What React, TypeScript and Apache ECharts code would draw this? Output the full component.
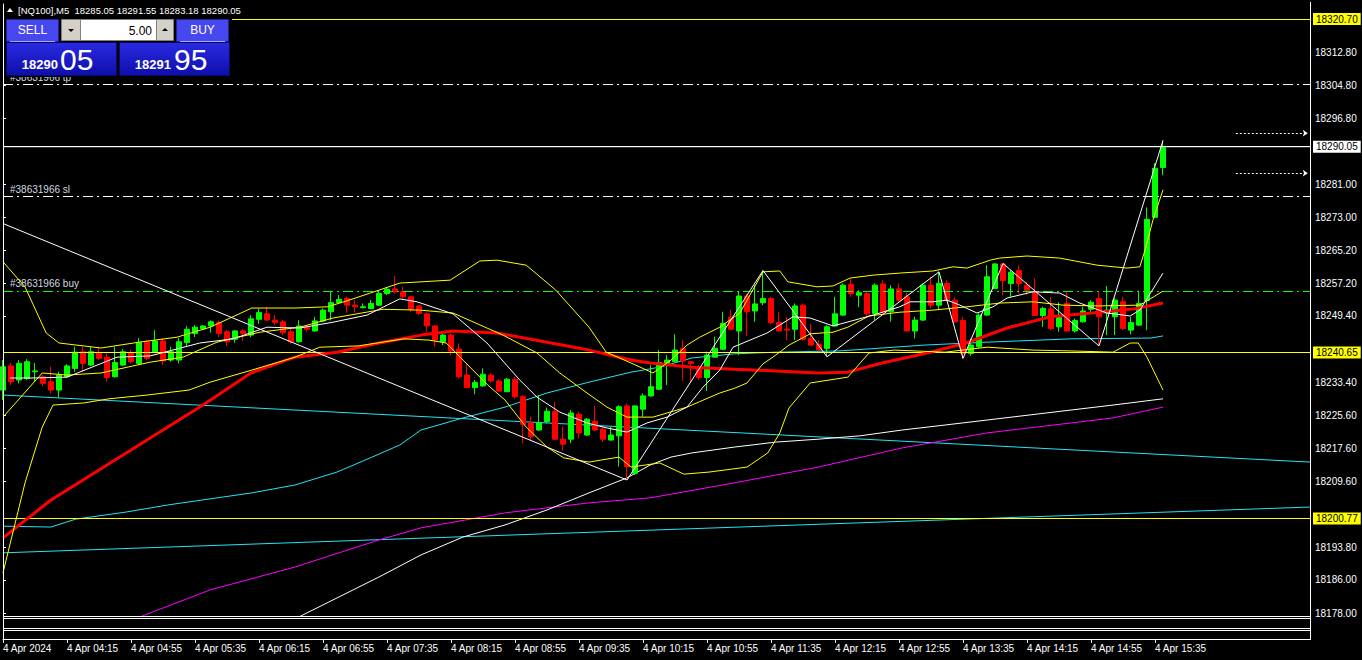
import React, { useEffect, useRef } from "react";
import * as echarts from "echarts";

// ---------------- data ----------------
const symbol = "[NQ100],M5";
const lotSize = 5.0;
const bidPrice = 18290.05;
const askPrice = 18291.95;

// [open, high, low, close] per 5-minute bar, first bar 4 Apr 2024 03:35
const candles: [number, number, number, number][] = [
  [18231.6, 18238.8, 18229.2, 18237.2], [18237.4, 18238.1, 18232.8, 18233.6], [18234.0, 18238.8, 18233.2, 18238.0],
  [18234.4, 18239.0, 18234.0, 18238.4], [18236.0, 18238.1, 18233.6, 18236.2], [18234.8, 18235.2, 18232.5, 18233.2],
  [18233.6, 18237.2, 18230.8, 18231.6], [18231.6, 18236.0, 18229.7, 18235.2], [18234.8, 18237.8, 18234.5, 18237.4],
  [18236.8, 18242.0, 18236.0, 18240.7], [18240.8, 18242.0, 18236.0, 18238.0], [18237.6, 18242.0, 18237.4, 18240.8],
  [18240.4, 18242.0, 18238.8, 18239.2], [18239.5, 18240.4, 18233.6, 18234.6], [18234.8, 18242.0, 18234.6, 18238.2],
  [18237.6, 18241.4, 18237.4, 18240.8], [18240.6, 18241.2, 18238.0, 18238.4], [18238.0, 18244.1, 18237.6, 18243.0],
  [18243.2, 18243.6, 18238.8, 18239.2], [18240.8, 18246.0, 18240.6, 18243.4], [18243.4, 18244.1, 18237.6, 18238.6],
  [18238.8, 18242.0, 18238.4, 18240.8], [18238.8, 18244.1, 18238.0, 18243.2], [18243.0, 18247.0, 18242.0, 18246.2],
  [18245.2, 18247.2, 18244.3, 18246.7], [18246.3, 18247.2, 18246.0, 18247.0], [18247.0, 18248.3, 18245.4, 18248.0],
  [18247.8, 18248.3, 18244.3, 18245.2], [18245.6, 18246.0, 18242.2, 18243.2], [18243.8, 18246.0, 18243.0, 18245.8],
  [18245.8, 18246.2, 18243.4, 18245.2], [18244.8, 18249.6, 18244.3, 18248.7], [18248.6, 18251.2, 18247.5, 18250.2],
  [18249.9, 18251.6, 18248.3, 18248.4], [18248.4, 18249.6, 18247.2, 18247.8], [18248.0, 18248.4, 18244.8, 18245.4],
  [18245.6, 18246.4, 18242.8, 18243.2], [18243.2, 18248.4, 18243.0, 18247.0], [18246.7, 18247.2, 18245.6, 18246.2],
  [18245.8, 18249.2, 18245.6, 18248.2], [18248.2, 18251.2, 18248.0, 18250.8], [18250.4, 18255.2, 18248.3, 18252.6],
  [18252.6, 18254.4, 18252.3, 18253.4], [18253.6, 18254.0, 18250.2, 18252.0], [18252.0, 18253.2, 18250.2, 18251.6],
  [18251.4, 18252.4, 18251.2, 18251.6], [18251.2, 18253.2, 18251.0, 18252.4], [18252.0, 18255.2, 18251.8, 18254.8],
  [18254.8, 18256.3, 18254.4, 18255.8], [18255.9, 18259.0, 18254.8, 18255.2], [18255.2, 18256.4, 18253.6, 18254.0],
  [18254.0, 18254.1, 18250.4, 18251.0], [18251.8, 18252.0, 18249.6, 18250.0], [18249.9, 18250.2, 18245.6, 18247.0],
  [18247.0, 18247.2, 18242.0, 18243.6], [18243.2, 18245.2, 18242.4, 18244.8], [18244.8, 18245.2, 18240.0, 18241.0],
  [18241.4, 18242.8, 18234.4, 18234.8], [18235.2, 18238.0, 18232.0, 18232.2], [18232.2, 18234.0, 18230.6, 18233.4],
  [18232.6, 18236.8, 18232.4, 18235.4], [18235.2, 18235.6, 18233.4, 18233.8], [18233.8, 18234.2, 18231.1, 18231.4],
  [18231.2, 18234.5, 18231.1, 18234.2], [18234.2, 18234.8, 18229.6, 18230.0], [18230.0, 18230.4, 18218.8, 18223.4],
  [18223.7, 18225.2, 18219.6, 18220.4], [18222.0, 18230.4, 18221.8, 18223.7], [18224.0, 18227.4, 18223.6, 18226.5],
  [18226.4, 18228.8, 18219.6, 18219.8], [18219.8, 18222.8, 18217.0, 18218.6], [18219.8, 18226.8, 18218.8, 18226.1],
  [18225.8, 18226.4, 18220.0, 18221.3], [18220.8, 18224.9, 18220.6, 18224.6], [18224.1, 18227.8, 18221.7, 18222.0],
  [18222.2, 18222.8, 18219.2, 18219.8], [18219.6, 18222.8, 18219.4, 18220.8], [18220.6, 18228.0, 18213.2, 18227.6],
  [18227.8, 18228.4, 18210.0, 18213.2], [18211.6, 18227.9, 18211.2, 18227.8], [18227.0, 18230.8, 18225.2, 18230.2],
  [18230.2, 18237.6, 18230.0, 18232.4], [18231.8, 18241.2, 18231.6, 18238.2], [18238.0, 18240.0, 18232.8, 18238.8],
  [18238.4, 18245.0, 18238.3, 18241.2], [18241.6, 18243.6, 18233.8, 18238.6], [18238.4, 18238.6, 18233.3, 18238.0],
  [18237.1, 18237.6, 18234.0, 18234.6], [18234.6, 18240.8, 18231.4, 18240.0], [18239.5, 18244.4, 18239.4, 18241.6],
  [18241.4, 18250.4, 18241.2, 18247.6], [18249.1, 18250.8, 18246.0, 18246.2], [18245.8, 18255.2, 18240.0, 18254.2],
  [18254.2, 18254.8, 18244.6, 18250.4], [18250.6, 18256.8, 18248.0, 18252.3], [18252.6, 18260.3, 18252.0, 18253.6],
  [18253.6, 18254.0, 18247.5, 18247.8], [18247.8, 18250.4, 18245.6, 18245.8], [18246.2, 18249.2, 18243.6, 18246.0],
  [18246.2, 18252.4, 18243.6, 18251.8], [18252.0, 18252.4, 18243.4, 18243.8], [18244.0, 18247.5, 18242.2, 18242.4],
  [18242.6, 18243.6, 18241.0, 18241.2], [18241.6, 18247.2, 18239.6, 18246.8], [18247.0, 18254.0, 18246.8, 18249.9],
  [18249.6, 18257.2, 18249.4, 18256.8], [18257.0, 18258.4, 18254.0, 18254.7], [18254.4, 18255.6, 18251.5, 18255.0],
  [18254.8, 18255.4, 18249.2, 18249.9], [18250.0, 18257.2, 18248.4, 18256.8], [18257.1, 18258.0, 18250.0, 18250.4],
  [18250.4, 18256.8, 18248.0, 18255.9], [18255.9, 18257.2, 18252.8, 18253.2], [18254.0, 18255.0, 18245.6, 18245.8],
  [18245.8, 18249.2, 18244.0, 18248.4], [18248.4, 18257.2, 18248.2, 18256.8], [18256.8, 18258.8, 18251.2, 18252.0],
  [18252.0, 18260.0, 18250.8, 18257.2], [18257.2, 18258.0, 18253.0, 18253.2], [18253.2, 18253.9, 18247.8, 18248.0],
  [18248.3, 18249.2, 18239.2, 18240.4], [18240.4, 18244.0, 18239.8, 18242.4], [18242.0, 18250.0, 18241.8, 18249.6],
  [18249.6, 18261.6, 18249.4, 18258.8], [18256.0, 18262.0, 18255.9, 18261.9], [18261.9, 18262.0, 18254.4, 18257.9],
  [18257.2, 18260.4, 18254.0, 18259.9], [18260.3, 18261.6, 18254.8, 18257.2], [18256.8, 18257.6, 18254.4, 18255.6],
  [18255.2, 18258.4, 18249.4, 18249.5], [18249.5, 18251.6, 18246.8, 18251.2], [18251.1, 18254.0, 18246.0, 18246.4],
  [18246.8, 18252.7, 18245.6, 18249.0], [18252.4, 18255.2, 18245.6, 18245.8], [18245.8, 18248.8, 18245.4, 18248.3],
  [18248.0, 18251.6, 18247.8, 18250.6], [18251.0, 18253.2, 18250.3, 18252.7], [18253.6, 18255.1, 18242.2, 18249.2],
  [18250.1, 18256.6, 18244.8, 18250.8], [18249.2, 18253.6, 18244.8, 18253.2], [18252.8, 18254.0, 18246.0, 18246.4],
  [18246.0, 18249.2, 18245.0, 18247.8], [18247.2, 18255.5, 18247.0, 18252.4], [18253.1, 18275.5, 18246.0, 18272.6],
  [18273.1, 18286.1, 18272.9, 18284.9], [18285.05, 18291.55, 18283.18, 18290.05],
];

const timeLabels = [
  "4 Apr 2024", "4 Apr 04:15", "4 Apr 04:55", "4 Apr 05:35", "4 Apr 06:15", "4 Apr 06:55", "4 Apr 07:35",
  "4 Apr 08:15", "4 Apr 08:55", "4 Apr 09:35", "4 Apr 10:15", "4 Apr 10:55", "4 Apr 11:35", "4 Apr 12:15",
  "4 Apr 12:55", "4 Apr 13:35", "4 Apr 14:15", "4 Apr 14:55", "4 Apr 15:35",
];
const barsPerLabel = 8;

const priceTicks = [
  18312.8, 18304.8, 18296.8, 18281.0, 18273.0, 18265.2, 18257.2, 18249.4,
  18233.4, 18225.6, 18217.6, 18209.6, 18193.8, 18186.0, 18178.0,
];

const yellowLevels = [18320.7, 18240.65, 18200.77];
const orderNames = ["#38631966 tp", "#38631966 sl", "#38631966 buy"];
const orderPrices = [18305.1, 18278.2, 18255.4];
const alertLevels = [18293.3, 18283.7];

// indicator lines: [bar index, price]
const bbUpper: [number, number][] = [
  [0, 18262.4], [2.75, 18256.4], [5.4, 18245.3], [7, 18242.9], [12.25, 18241.7], [17, 18243.1], [21.75, 18244.3],
  [25.9, 18246.7], [31.1, 18251.3], [36.5, 18251.3], [40.6, 18251.6], [43.25, 18253.2], [47, 18255.6], [49.6, 18257.3],
  [55.9, 18258.0], [59.6, 18262.6], [61.75, 18262.8], [65.4, 18261.6], [69.1, 18255.6], [73.25, 18246.7], [75.4, 18240.7],
  [78.5, 18238.1], [81.25, 18235.7], [83.5, 18238.8], [85.5, 18242.4], [87.1, 18244.3], [89.6, 18246.7], [92.1, 18250.1],
  [95, 18260.0], [97.1, 18260.2], [98.1, 18257.6], [101.75, 18256.4], [103.75, 18256.6], [105.9, 18258.5], [108.75, 18259.2],
  [112.1, 18259.7], [116.25, 18260.2], [118.75, 18261.2], [120.5, 18260.9], [123.4, 18262.8], [124.6, 18263.3], [128, 18263.8],
  [132.1, 18263.3], [136.75, 18261.6], [140.5, 18260.9], [142.1, 18261.2], [142.75, 18265.2], [143.75, 18272.5], [145, 18279.7],
];
const bbLower: [number, number][] = [
  [0, 18187.7], [2.75, 18209.3], [4.9, 18222.7], [6.25, 18228.0], [10.1, 18228.5], [13.25, 18229.5], [18, 18230.4],
  [23.25, 18231.6], [25.9, 18233.5], [31.1, 18236.4], [36.5, 18239.5], [39.6, 18241.9], [44.4, 18242.2], [50.1, 18243.9],
  [53.25, 18243.6], [55.4, 18242.9], [57.5, 18238.8], [60.6, 18232.8], [62.75, 18229.2], [65.4, 18222.7], [68, 18217.9],
  [70.1, 18215.3], [73.25, 18214.3], [77, 18215.5], [78.5, 18213.1], [82.1, 18214.1], [85.1, 18211.4], [88.25, 18211.9],
  [93, 18213.1], [95.6, 18216.5], [97.1, 18221.3], [98.25, 18227.3], [100.9, 18233.3], [105.6, 18234.7], [108.25, 18240.5],
  [111.4, 18241.2], [117.75, 18240.7], [123, 18241.9], [128.75, 18241.2], [133.5, 18241.0], [138.75, 18240.7],
  [140.9, 18242.9], [141.9, 18242.9], [143, 18239.5], [145, 18231.6],
];
const bbMiddle: [number, number][] = [
  [0, 18225.1], [4.9, 18235.7], [8, 18235.2], [12.25, 18235.7], [18.4, 18238.3], [22.5, 18239.5], [26.75, 18243.1],
  [32.1, 18245.5], [37.1, 18246.7], [41.25, 18248.9], [47.5, 18251.0], [52.1, 18250.8], [56.25, 18250.1], [62.5, 18244.8],
  [66.75, 18240.5], [69.6, 18235.7], [73, 18230.9], [75.5, 18227.5], [78, 18225.1], [81.25, 18225.1], [85.5, 18227.5],
  [89.6, 18230.9], [91.4, 18232.0], [93, 18233.3], [95, 18237.9], [96.6, 18240.0], [98.25, 18242.4], [100.9, 18245.1],
  [103.75, 18245.5], [105.6, 18246.7], [108.25, 18249.4], [112.1, 18250.3], [116.25, 18250.8], [120.5, 18251.6],
  [124.6, 18252.5], [128.75, 18252.8], [132.5, 18252.0], [136.75, 18251.8], [142.1, 18252.0], [143.75, 18253.9], [145, 18255.4],
];
const maFast: [number, number][] = [
  [0.9, 18234.5], [3.75, 18234.5], [8, 18234.7], [14.25, 18239.5], [18.4, 18239.8], [24.6, 18242.9], [28.75, 18243.9],
  [33, 18246.7], [37.1, 18246.5], [41.25, 18247.9], [45.5, 18249.6], [49.6, 18253.5], [51.75, 18252.8], [56.25, 18249.9],
  [60.5, 18242.9], [64.6, 18234.0], [66.75, 18229.9], [69.6, 18226.3], [73, 18223.7], [75.5, 18222.5], [78, 18221.5],
  [80.5, 18223.7], [83, 18225.1], [85.5, 18227.5], [87.5, 18232.3], [89.6, 18236.4], [91.25, 18241.9], [95.5, 18245.3],
  [98.75, 18249.2], [100.9, 18248.9], [103.75, 18247.0], [105.5, 18247.9], [108.75, 18249.6], [112.1, 18251.6],
  [113.4, 18252.8], [116.25, 18252.8], [118, 18253.2], [119.6, 18252.0], [121.75, 18250.1], [123.75, 18251.6],
  [125.5, 18253.7], [128.75, 18255.2], [132.1, 18254.9], [134.6, 18252.5], [138, 18250.1], [140.9, 18249.4],
  [142.1, 18250.8], [145, 18259.7],
];
const maRed: [number, number][] = [
  [0, 18196.1], [6, 18205.2], [15.4, 18216.5], [25, 18228.0], [31, 18235.7], [36.5, 18239.5], [41.75, 18240.7],
  [47, 18242.9], [52.25, 18244.8], [56.25, 18245.8], [61.75, 18245.3], [68, 18243.1], [73.25, 18241.2], [78.5, 18238.8],
  [80.9, 18238.1], [86.1, 18237.1], [91.4, 18236.6], [96.6, 18236.2], [101.9, 18235.7], [105.6, 18235.9], [109.9, 18238.1],
  [115.1, 18240.3], [120.4, 18242.9], [125.5, 18246.5], [130.9, 18249.2], [136.1, 18250.1], [141.4, 18251.1], [145, 18252.5],
];
const maCyan: [number, number][] = [
  [0, 18198.9], [6, 18198.7], [9.1, 18200.6], [15.4, 18202.3], [20.6, 18204.0], [31.1, 18206.9], [36.5, 18208.8],
  [41.75, 18211.9], [45.9, 18215.3], [49.6, 18218.4], [52.25, 18222.0], [57.5, 18224.9], [62.75, 18227.5], [68, 18230.9],
  [73.25, 18233.5], [78.5, 18235.9], [82.1, 18237.1], [86.1, 18239.3], [91.4, 18240.3], [96.6, 18240.7], [104.5, 18241.0],
  [109.9, 18241.7], [115.1, 18242.4], [123, 18243.1], [133.5, 18243.9], [143.5, 18244.1], [145, 18244.6],
];
const maMagenta: [number, number][] = [
  [15.9, 18176.1], [17.75, 18177.6], [25.9, 18183.6], [36.5, 18189.1], [47, 18195.6], [52.25, 18198.5], [62.75, 18202.1],
  [73.25, 18204.5], [80.9, 18205.7], [91.4, 18209.3], [101.9, 18213.1], [112.4, 18217.7], [123, 18221.3], [133.5, 18223.7],
  [138.75, 18224.9], [145, 18227.5],
];
const maSlowWhite: [number, number][] = [
  [36, 18176.1], [37.5, 18177.6], [47, 18186.7], [52.25, 18192.0], [57.5, 18196.3], [62.75, 18199.2], [68, 18202.8],
  [73.25, 18206.9], [78, 18210.5], [80.9, 18213.6], [83.5, 18215.5], [86.1, 18216.5], [91.4, 18217.9], [96.6, 18219.1],
  [101.9, 18219.8], [107.1, 18220.6], [112.4, 18222.0], [117.75, 18223.2], [123, 18224.4], [128.25, 18225.6],
  [133.5, 18226.8], [138.75, 18228.0], [145, 18229.5],
];
const zigzag: [number, number][] = [
  [0, 18271.6], [78, 18210.0], [95, 18260.3], [103, 18239.6], [117, 18260.0], [120, 18239.2], [125, 18262.0],
  [137, 18242.2], [145, 18291.55],
];
const trendCyanUpper: [number, number][] = [[0, 18230.4], [163.375, 18214.3]];
const trendCyanLower: [number, number][] = [[0, 18192.5], [163.375, 18203.5]];

// ---------------- layout ----------------
const X_MAX = 163.375;
const Y_MIN = 18177.33;
const Y_MAX = 18324.33;
const SANS = "'Liberation Sans', Arial, sans-serif";

function splitPrice(p: number): [string, string] {
  const s = p.toFixed(2);
  const [a, b] = s.split(".");
  return [a, b];
}

function lineSeries(name: string, data: [number, number][], color: string, width: number, z = 4) {
  return {
    name,
    type: "line",
    data,
    symbol: "none",
    showSymbol: false,
    silent: true,
    clip: true,
    z,
    lineStyle: { color, width },
  };
}

function buildOption() {
  const last = candles[candles.length - 1];
  const header = `${symbol}  ${last[0].toFixed(2)} ${last[1].toFixed(2)} ${last[2].toFixed(2)} ${last[3].toFixed(2)}`;
  const tickIdx = timeLabels.map((_, i) => i * barsPerLabel);
  const [sellA, sellB] = splitPrice(bidPrice);
  const [buyA, buyB] = splitPrice(askPrice);

  const priceTag = (value: number, bg: string) => ({
    yAxis: value,
    lineStyle: { color: bg, width: 1, type: "solid" },
    label: {
      show: true,
      position: "end",
      distance: 3,
      formatter: value.toFixed(2),
      backgroundColor: bg,
      color: "#000000",
      fontFamily: SANS,
      fontSize: 10,
      lineHeight: 11,
      padding: [1, 3, 0, 3],
    },
  });

  const alertPairs = alertLevels.map((p) => [
    { coord: [154.1, p], symbol: "none", lineStyle: { color: "#ffffff", type: [2, 2], width: 1 }, label: { show: false } },
    { coord: [163.1, p], symbol: "arrow", symbolSize: [5, 5] },
  ]);

  const markData: any[] = [
    ...yellowLevels.map((v) => priceTag(v, "#ffff00")),
    priceTag(bidPrice, "#ffffff"),
    ...orderPrices.map((p, i) => ({
      yAxis: p,
      lineStyle: { color: i === 2 ? "#00ff00" : "#ffffff", width: 1, type: [10, 4, 2, 4] },
      label: {
        show: true,
        position: "insideStartTop",
        distance: [7, 2],
        formatter: orderNames[i],
        color: "#d0d8e0",
        fontFamily: SANS,
        fontSize: 10,
      },
    })),
    ...alertPairs,
  ];

  const btnFill = "#4747ef";
  const blockFill = new echarts.graphic.LinearGradient(0, 0, 0, 1, [
    { offset: 0, color: "#2a2ae2" },
    { offset: 1, color: "#0e0eaa" },
  ]);

  const graphic: any[] = [
    // frame & indicator sub-windows
    { type: "line", z: 50, silent: true, shape: { x1: 3.5, y1: 17, x2: 3.5, y2: 639.5 }, style: { stroke: "#ffffff", lineWidth: 1 } },
    { type: "line", z: 50, silent: true, shape: { x1: 3, y1: 616.5, x2: 1310.5, y2: 616.5 }, style: { stroke: "#ffffff", lineWidth: 1 } },
    { type: "rect", z: 50, silent: true, shape: { x: 3.5, y: 618.5, width: 1307, height: 10 }, style: { fill: "none", stroke: "#ffffff", lineWidth: 1 } },
    { type: "rect", z: 50, silent: true, shape: { x: 3.5, y: 630.5, width: 1307, height: 9 }, style: { fill: "none", stroke: "#ffffff", lineWidth: 1 } },
    { type: "line", z: 50, silent: true, shape: { x1: 1310.5, y1: 2, x2: 1310.5, y2: 639.5 }, style: { stroke: "#ffffff", lineWidth: 1 } },
    // header
    { type: "polygon", z: 70, silent: true, shape: { points: [[7, 12], [13, 12], [10, 8]] }, style: { fill: "#ffffff" } },
    {
      type: "text", z: 70, silent: true, x: 18, y: 10,
      style: { text: header, fill: "#ffffff", font: `9.5px ${SANS}`, align: "left", verticalAlign: "middle", textAlign: "left", textVerticalAlign: "middle" },
    },
    // one-click trading panel
    { type: "rect", z: 60, silent: true, shape: { x: 4, y: 17, width: 228, height: 60 }, style: { fill: "#000000" } },
    { type: "rect", z: 61, silent: true, shape: { x: 6.5, y: 19.5, width: 52, height: 22 }, style: { fill: btnFill, stroke: "#20209a", lineWidth: 1 } },
    { type: "text", z: 62, silent: true, x: 32.5, y: 30, style: { text: "SELL", fill: "#ffffff", font: `12px ${SANS}`, align: "center", verticalAlign: "middle", textAlign: "center", textVerticalAlign: "middle" } },
    { type: "line", z: 62, silent: true, shape: { x1: 10, y1: 41.5, x2: 55, y2: 41.5 }, style: { stroke: "#a8a8ff", lineWidth: 1 } },
    { type: "rect", z: 61, silent: true, shape: { x: 61.5, y: 19.5, width: 19, height: 21 }, style: { fill: "#d4d0c8", stroke: "#808080", lineWidth: 1 } },
    { type: "polygon", z: 62, silent: true, shape: { points: [[68, 29], [74, 29], [71, 32]] }, style: { fill: "#000000" } },
    { type: "rect", z: 61, silent: true, shape: { x: 80.5, y: 19.5, width: 76, height: 21 }, style: { fill: "#ffffff", stroke: "#808080", lineWidth: 1 } },
    { type: "text", z: 62, silent: true, x: 152, y: 30.5, style: { text: lotSize.toFixed(2), fill: "#000000", font: `12px ${SANS}`, align: "right", verticalAlign: "middle", textAlign: "right", textVerticalAlign: "middle" } },
    { type: "rect", z: 61, silent: true, shape: { x: 156.5, y: 19.5, width: 17, height: 21 }, style: { fill: "#d4d0c8", stroke: "#808080", lineWidth: 1 } },
    { type: "polygon", z: 62, silent: true, shape: { points: [[162, 31], [168, 31], [165, 28]] }, style: { fill: "#000000" } },
    { type: "rect", z: 61, silent: true, shape: { x: 176.5, y: 19.5, width: 52, height: 22 }, style: { fill: btnFill, stroke: "#20209a", lineWidth: 1 } },
    { type: "text", z: 62, silent: true, x: 202.5, y: 30, style: { text: "BUY", fill: "#ffffff", font: `12px ${SANS}`, align: "center", verticalAlign: "middle", textAlign: "center", textVerticalAlign: "middle" } },
    { type: "line", z: 62, silent: true, shape: { x1: 180, y1: 41.5, x2: 225, y2: 41.5 }, style: { stroke: "#a8a8ff", lineWidth: 1 } },
    { type: "rect", z: 61, silent: true, shape: { x: 6.5, y: 42.5, width: 110, height: 33 }, style: { fill: blockFill, stroke: "#08086a", lineWidth: 1 } },
    { type: "rect", z: 61, silent: true, shape: { x: 119.5, y: 42.5, width: 110, height: 33 }, style: { fill: blockFill, stroke: "#08086a", lineWidth: 1 } },
    { type: "text", z: 62, silent: true, x: 58, y: 71, style: { text: sellA, fill: "#ffffff", font: `bold 13px ${SANS}`, align: "right", verticalAlign: "bottom", textAlign: "right", textVerticalAlign: "bottom" } },
    { type: "text", z: 62, silent: true, x: 60, y: 74, style: { text: sellB, fill: "#ffffff", font: `30px ${SANS}`, align: "left", verticalAlign: "bottom", textAlign: "left", textVerticalAlign: "bottom" } },
    { type: "text", z: 62, silent: true, x: 171, y: 71, style: { text: buyA, fill: "#ffffff", font: `bold 13px ${SANS}`, align: "right", verticalAlign: "bottom", textAlign: "right", textVerticalAlign: "bottom" } },
    { type: "text", z: 62, silent: true, x: 174, y: 74, style: { text: buyB, fill: "#ffffff", font: `30px ${SANS}`, align: "left", verticalAlign: "bottom", textAlign: "left", textVerticalAlign: "bottom" } },
  ];

  return {
    animation: false,
    backgroundColor: "#000000",
    grid: { left: 3, top: 4, width: 1307, height: 612, show: false, containLabel: false },
    xAxis: {
      type: "value",
      min: 0,
      max: X_MAX,
      interval: barsPerLabel,
      offset: 23,
      axisLine: { show: true, lineStyle: { color: "#ffffff", width: 1 } },
      axisTick: { show: true, length: 4, customValues: tickIdx, lineStyle: { color: "#ffffff" } },
      axisLabel: {
        show: true,
        customValues: tickIdx,
        formatter: (v: number) => timeLabels[Math.round(v / barsPerLabel)] ?? "",
        color: "#ffffff",
        fontFamily: SANS,
        fontSize: 10,
        align: "left",
        margin: 4,
      },
      splitLine: { show: false },
    },
    yAxis: {
      type: "value",
      position: "right",
      min: Y_MIN,
      max: Y_MAX,
      scale: true,
      axisLine: { show: true, lineStyle: { color: "#ffffff", width: 1 } },
      axisTick: { show: true, length: 3, inside: false, customValues: priceTicks, lineStyle: { color: "#ffffff" } },
      axisLabel: {
        show: true,
        customValues: priceTicks,
        formatter: (v: number) => v.toFixed(2),
        color: "#ffffff",
        fontFamily: SANS,
        fontSize: 10,
        margin: 5,
      },
      splitLine: { show: false },
    },
    graphic,
    series: [
      {
        name: "levels",
        type: "line",
        data: [[0, bidPrice], [X_MAX, bidPrice]],
        symbol: "none",
        silent: true,
        lineStyle: { color: "#ffffff", width: 1 },
        z: 2,
        markLine: { silent: true, symbol: ["none", "none"], animation: false, data: markData },
      },
      lineSeries("trendCyanUpper", trendCyanUpper, "#22e4f6", 1, 3),
      lineSeries("trendCyanLower", trendCyanLower, "#22e4f6", 1, 3),
      lineSeries("maMagenta", maMagenta, "#ff00ff", 1, 3),
      lineSeries("maSlowWhite", maSlowWhite, "#ffffff", 1, 3),
      lineSeries("maCyan", maCyan, "#22e4f6", 1, 3),
      {
        name: "NQ100",
        type: "candlestick",
        data: candles.map(([o, h, l, c], i) => [i, o, c, l, h]),
        encode: { x: 0, y: [1, 2, 3, 4] },
        barWidth: 5,
        clip: true,
        silent: true,
        z: 4,
        itemStyle: { color: "#00ff00", color0: "#ff0000", borderColor: "#00ff00", borderColor0: "#ff0000", borderWidth: 1 },
      },
      lineSeries("maRed", maRed, "#ff0000", 3, 5),
      lineSeries("bbUpper", bbUpper, "#ffff00", 1, 6),
      lineSeries("bbLower", bbLower, "#ffff00", 1, 6),
      lineSeries("bbMiddle", bbMiddle, "#ffff00", 1, 6),
      lineSeries("maFast", maFast, "#ffffff", 1, 6),
      lineSeries("zigzag", zigzag, "#ffffff", 1, 6),
    ],
  };
}

export default function App() {
  const ref = useRef<HTMLDivElement>(null);
  useEffect(() => {
    document.body.style.margin = "0";
    document.body.style.background = "#000000";
    const chart = echarts.init(ref.current!, null, { renderer: "svg" });
    chart.setOption(buildOption() as any);
    return () => chart.dispose();
  }, []);
  return <div ref={ref} style={{ width: 1362, height: 660, background: "#000000" }} />;
}
